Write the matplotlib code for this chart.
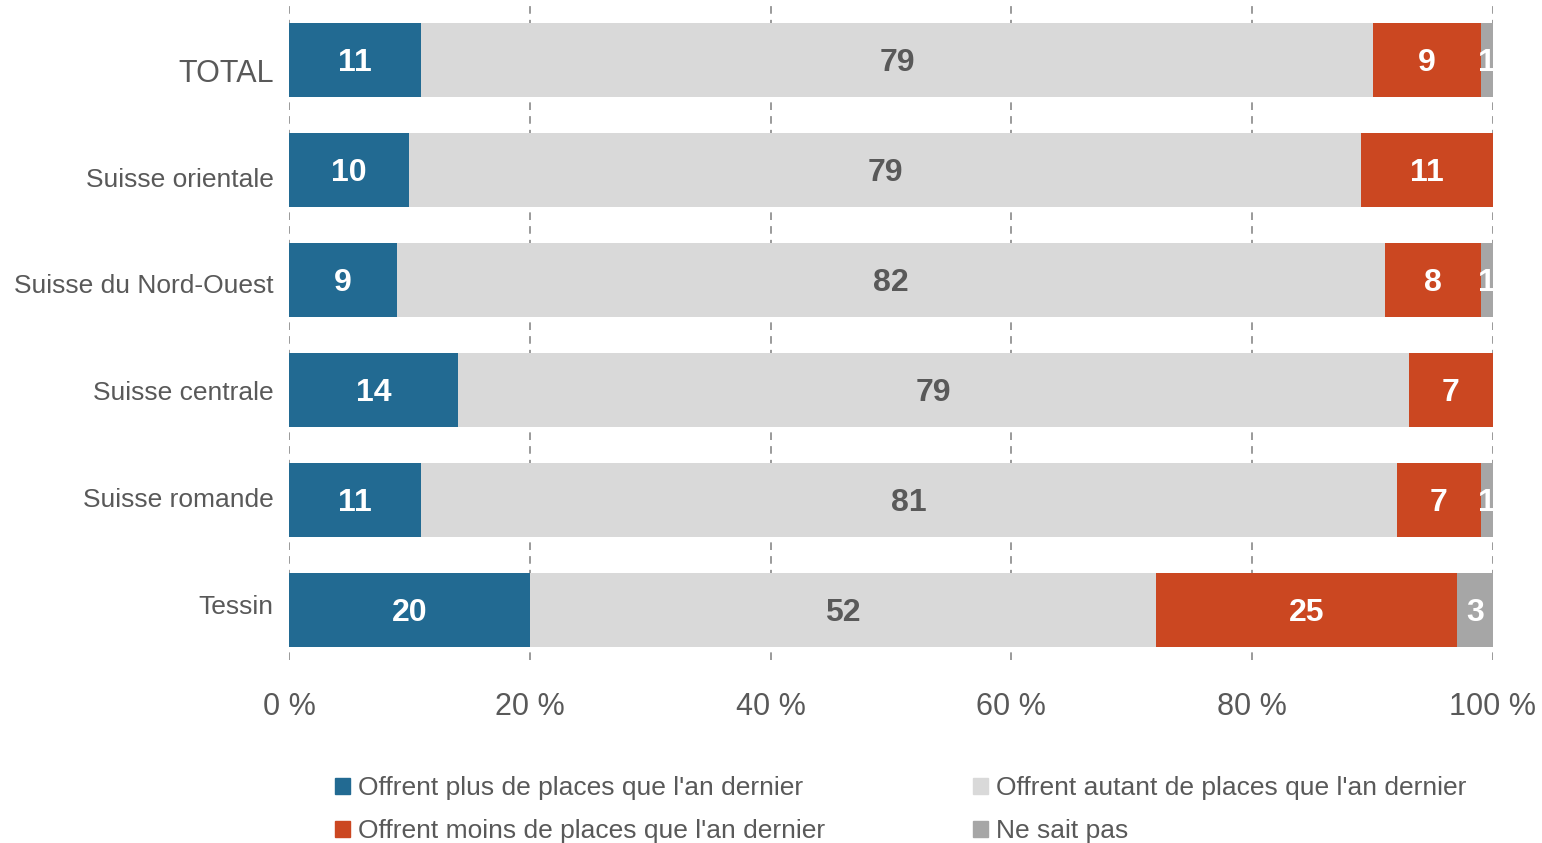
import numpy as np
import matplotlib.pyplot as plt
from matplotlib.patches import Patch

plt.rcParams['font.family'] = ['Liberation Sans', 'DejaVu Sans']

# data
regions = ["TOTAL", "Suisse orientale", "Suisse du Nord-Ouest",
           "Suisse centrale", "Suisse romande", "Tessin"]
plus = [11, 10, 9, 14, 11, 20]
autant = [79, 79, 82, 79, 81, 52]
moins = [9, 11, 8, 7, 7, 25]
nsp = [1, 0, 1, 0, 1, 3]
xticks = [0, 20, 40, 60, 80, 100]
xtick_labels = ["0 %", "20 %", "40 %", "60 %", "80 %", "100 %"]

series = [
    ("Offrent plus de places que l'an dernier", plus, "#226A92", "white"),
    ("Offrent autant de places que l'an dernier", autant, "#D9D9D9", "#595959"),
    ("Offrent moins de places que l'an dernier", moins, "#CB4721", "white"),
    ("Ne sait pas", nsp, "#A6A6A6", "white"),
]

txt = "#595959"

fig = plt.figure(figsize=(15.42, 8.43), dpi=100)
ax = fig.add_axes([0.1874, 0.2171, 0.7808, 0.790])

y = np.arange(len(regions))
left = np.zeros(len(regions))
for name, vals, col, lcol in series:
    vals = np.array(vals, dtype=float)
    ax.barh(y, vals, left=left, height=0.664, color=col, zorder=2)
    for yi, l, v in zip(y, left, vals):
        if v > 0:
            ax.text(l + v / 2, yi + 0.03, str(int(v)), ha='center', va='center',
                    fontsize=23, fontweight='bold', color=lcol,
                    zorder=3, clip_on=True)
    left += vals

ax.set_xlim(0, 100)
ax.set_ylim(5.4545, -0.6)

# labels sit on a slightly tighter spacing than the bars
label_pos = 0.0909 + 0.9727 * y
ax.set_yticks(label_pos)
ax.set_yticklabels(regions, color=txt, fontsize=19)
ax.get_yticklabels()[0].set_fontsize(22)
ax.tick_params(axis='y', length=0, pad=11)

ax.set_xticks(xticks)
ax.set_xticklabels(xtick_labels, color=txt, fontsize=22)
ax.tick_params(axis='x', length=0, pad=23)

ax.grid(axis='x', linestyle=(0, (5, 4)), color='#7F7F7F', linewidth=1.1, zorder=0)
ax.set_axisbelow(True)
for s in ax.spines.values():
    s.set_visible(False)

handles = [Patch(color=series[i][2]) for i in (0, 2, 1, 3)]
labels = [series[i][0] for i in (0, 2, 1, 3)]
fig.legend(handles, labels, loc='upper left', bbox_to_anchor=(0.2173, 0.0790),
           ncol=2, frameon=False, fontsize=19, handlelength=0.55,
           handleheight=0.55, handletextpad=0.3, columnspacing=5.63,
           labelspacing=0.72, borderpad=0, borderaxespad=0, labelcolor=txt)

fig.savefig("out.png", dpi=100)
